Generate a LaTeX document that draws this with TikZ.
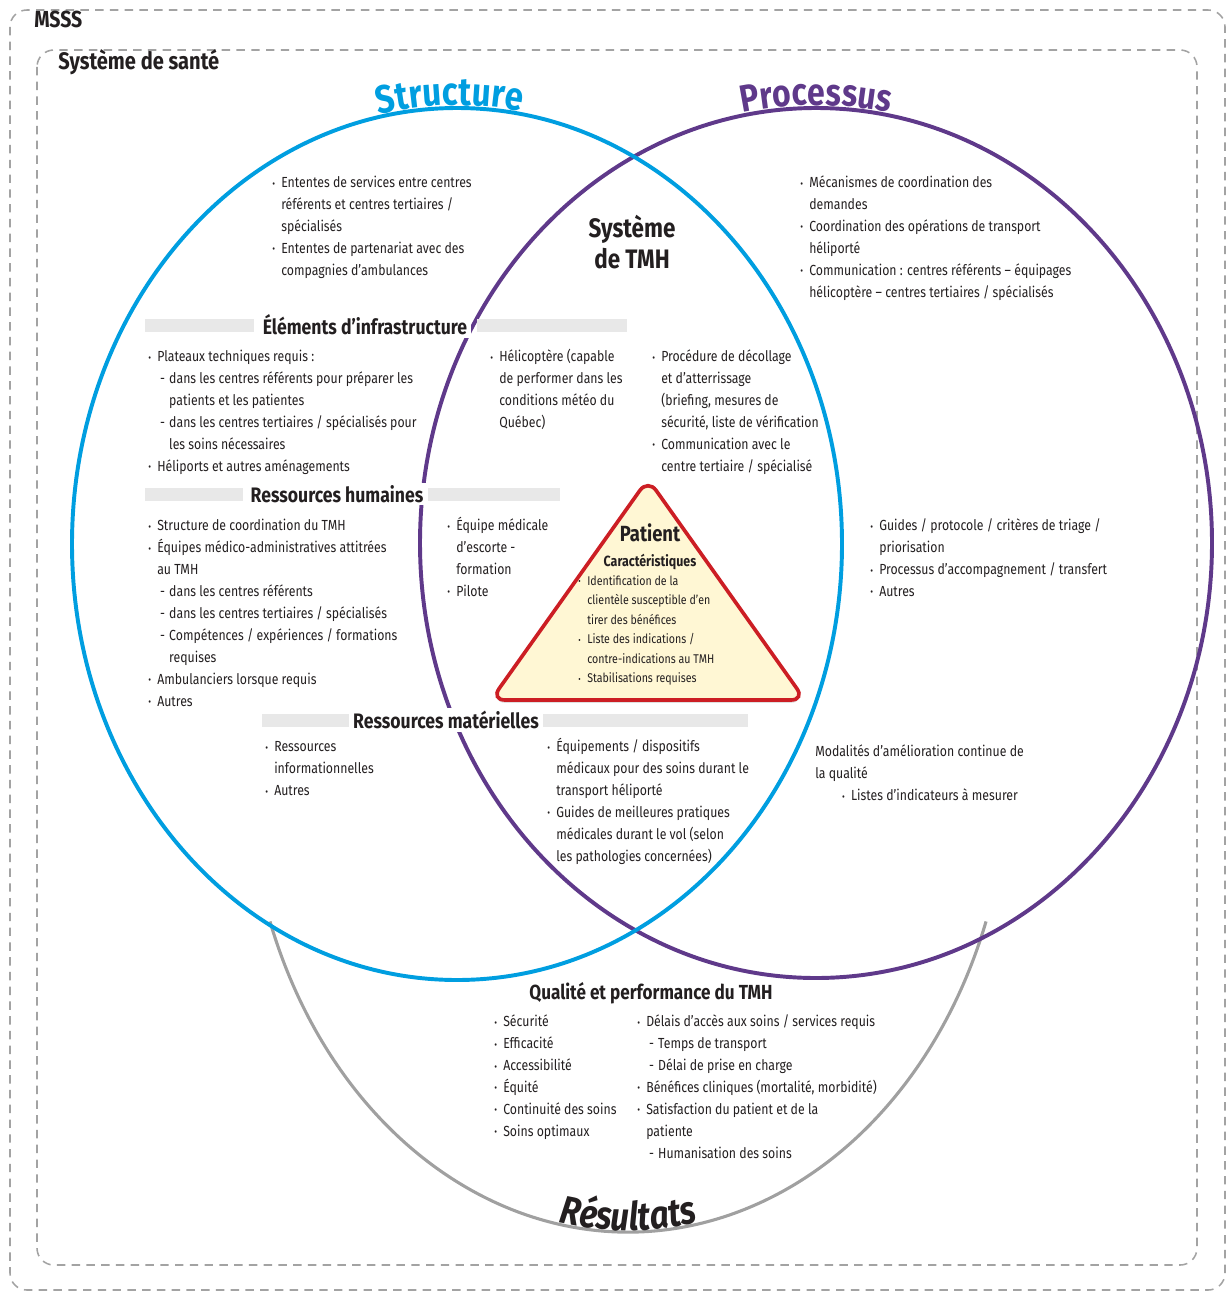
\documentclass[tikz,border=0pt]{standalone}
\usepackage{fontspec}
\setmainfont{Fira Sans}[FakeStretch=0.84]
\usetikzlibrary{positioning,calc,decorations.text,shadows}

\definecolor{strucblue}{RGB}{0,158,224}
\definecolor{procpurple}{RGB}{95,57,138}
\definecolor{resgray}{RGB}{160,160,160}
\definecolor{dashgray}{RGB}{163,163,163}
\definecolor{bargray}{RGB}{232,232,232}
\definecolor{patred}{RGB}{204,30,36}
\definecolor{patfill}{RGB}{255,247,212}
\definecolor{ink}{RGB}{35,31,32}

\newcommand{\haut}{\rule{0pt}{11.1pt}}
\newcommand{\petithaut}{\rule{0pt}{9.2pt}}
\newcommand{\bul}{\makebox[6.4pt][l]{\raisebox{0.1ex}{\scalebox{0.7}{\textbullet}}}}
\newcommand{\hng}{\hspace*{6.4pt}}
\newcommand{\tiret}{\hspace*{8.5pt}\makebox[6.4pt][l]{-}}
\newcommand{\subhng}{\hspace*{14.9pt}}

\begin{document}
\begin{tikzpicture}[
  x=0.025cm, y=-0.025cm,
  txt/.style={anchor=north west, align=left, inner sep=0pt, text=ink,
              font=\fontsize{10.4}{15.6}\selectfont},
  small/.style={anchor=north west, align=left, inner sep=0pt, text=ink,
                font=\fontsize{9}{13.9}\selectfont},
  head/.style={fill=white, inner xsep=3pt, inner ysep=2pt, text=ink,
               font=\fontsize{14.9}{14.9}\selectfont\bfseries},
  bar/.style={fill=bargray},
  cadre/.style={draw=dashgray, line width=1.1pt, dash pattern=on 6pt off 4.5pt,
                rounded corners=12pt},
  ring/.style={line width=2.8pt},
  resline/.style={draw=resgray, line width=2.2pt},
  patient/.style={draw=patred, fill=patfill, line width=2.6pt, rounded corners=10pt,
                  drop shadow={opacity=0.25, shadow xshift=0pt, shadow yshift=-2pt}}
]
  \useasboundingbox (0,0) rectangle (1230,1295);

  \draw[cadre] (10,10) rectangle (1225,1290);
  \draw[cadre] (37,50) rectangle (1197,1265);
  \node[anchor=base west, inner sep=0pt, text=ink, font=\fontsize{16.5}{16.5}\selectfont\bfseries]
    (msss) at (34,27) {MSSS};
  \node[anchor=base west, inner sep=0pt, text=ink, font=\fontsize{17}{17}\selectfont\bfseries]
    (sante) at (58,69) {Système de santé};

  \coordinate (sc) at (457,544);
  \coordinate (pc) at (816,543);
  \coordinate (rc) at (628,760);

  \draw[resline] (rc) ++(160:381 and 472) arc[start angle=160, end angle=20, x radius=381, y radius=472];
  \draw[ring, draw=procpurple] (pc) ellipse [x radius=396, y radius=435];
  \draw[ring, draw=strucblue] (sc) ellipse [x radius=385, y radius=436];

  \path[decorate, decoration={text along path, text align=center, raise=2pt,
        text={|\fontsize{28}{28}\selectfont\bfseries\color{strucblue}|Structure}}]
    (sc) ++(234:385 and 436) arc[start angle=234, end angle=304, x radius=385, y radius=436];
  \path[decorate, decoration={text along path, text align=center, raise=2pt,
        text={|\fontsize{27}{27}\selectfont\bfseries\color{procpurple}|Processus}}]
    (pc) ++(235:396 and 435) arc[start angle=235, end angle=305, x radius=396, y radius=435];
  \path[decorate, decoration={text along path, text align=center, raise=1pt,
        text={|\fontsize{28}{28}\selectfont\bfseries\itshape\color{ink}|R{é}sultats}}]
    (rc) ++(115:381 and 472) arc[start angle=115, end angle=65, x radius=381, y radius=472];

  \fill[bar] (145,319) rectangle (254,332);
  \fill[bar] (477,319) rectangle (627,332);
  \fill[bar] (145,488) rectangle (243,501);
  \fill[bar] (428,488) rectangle (560,501);
  \fill[bar] (262,714) rectangle (350,727);
  \fill[bar] (543,714) rectangle (748,727);
  \node[head] (infra) at (365,325) {Éléments d’infrastructure};
  \node[head] (rh) at (337,494) {Ressources humaines};
  \node[head] (rm) at (446,720) {Ressources matérielles};

  \node[align=center, inner sep=0pt, text=ink, font=\fontsize{19}{22}\selectfont\bfseries]
    (tmh) at (632,242) {Système\\de TMH};

  \node[txt] (ententes) at (272,172) {\haut\bul Ententes de services entre centres\\
    \hng référents et centres tertiaires /\\
    \hng spécialisés\\
    \bul Ententes de partenariat avec des\\
    \hng compagnies d’ambulances};

  \node[txt] (mecanismes) at (800,172) {\haut\bul Mécanismes de coordination des\\
    \hng demandes\\
    \bul Coordination des opérations de transport\\
    \hng héliporté\\
    \bul Communication : centres référents – équipages\\
    \hng hélicoptère – centres tertiaires / spécialisés};

  \node[txt] (plateaux) at (148,346) {\haut\bul Plateaux techniques requis :\\
    \tiret dans les centres référents pour préparer les\\
    \subhng patients et les patientes\\
    \tiret dans les centres tertiaires / spécialisés pour\\
    \subhng les soins nécessaires\\
    \bul Héliports et autres aménagements};

  \node[txt] (helico) at (490,346) {\haut\bul Hélicoptère (capable\\
    \hng de performer dans les\\
    \hng conditions météo du\\
    \hng Québec)};

  \node[txt] (procedure) at (652,346) {\haut\bul Procédure de décollage\\
    \hng et d’atterrissage\\
    \hng (briefing, mesures de\\
    \hng sécurité, liste de vérification\\
    \bul Communication avec le\\
    \hng centre tertiaire / spécialisé};

  \node[txt] (coord) at (148,515) {\haut\bul Structure de coordination du TMH\\
    \bul Équipes médico-administratives attitrées\\
    \hng au TMH\\
    \tiret dans les centres référents\\
    \tiret dans les centres tertiaires / spécialisés\\
    \tiret Compétences / expériences / formations\\
    \subhng requises\\
    \bul Ambulanciers lorsque requis\\
    \bul Autres};

  \node[txt] (escorte) at (447,515) {\haut\bul Équipe médicale\\
    \hng d’escorte -\\
    \hng formation\\
    \bul Pilote};

  \node[txt] (guides) at (870,515) {\haut\bul Guides / protocole / critères de triage /\\
    \hng priorisation\\
    \bul Processus d’accompagnement / transfert\\
    \bul Autres};

  \draw[patient] (648,479) -- (805,700) -- (491,700) -- cycle;
  \node[inner sep=0pt, text=ink, font=\fontsize{15.6}{15.6}\selectfont\bfseries]
    (patient) at (650,533) {Patient};
  \node[inner sep=0pt, text=ink, font=\fontsize{10.5}{10.5}\selectfont\bfseries, below=8.5pt of patient]
    (caract) {Caractéristiques};
  \node[small] (identif) at (578,572) {\petithaut\bul Identification de la\\
    \hng clientèle susceptible d’en\\
    \hng tirer des bénéfices\\
    \bul Liste des indications /\\
    \hng contre-indications au TMH\\
    \bul Stabilisations requises};

  \node[txt] (ressinfo) at (265,736) {\haut\bul Ressources\\
    \hng informationnelles\\
    \bul Autres};

  \node[txt] (equipements) at (547,736) {\haut\bul Équipements / dispositifs\\
    \hng médicaux pour des soins durant le\\
    \hng transport héliporté\\
    \bul Guides de meilleures pratiques\\
    \hng médicales durant le vol (selon\\
    \hng les pathologies concernées)};

  \node[txt] (modalites) at (815,741) {\haut Modalités d’amélioration continue de\\
    la qualité\\
    \hspace*{19pt}\bul Listes d’indicateurs à mesurer};

  \node[inner sep=0pt, text=ink, font=\fontsize{14.5}{14.5}\selectfont\bfseries]
    (qualite) at (651,993) {Qualité et performance du TMH};
  \node[txt] (criteres) at (494,1011) {\haut\bul Sécurité\\
    \bul Efficacité\\
    \bul Accessibilité\\
    \bul Équité\\
    \bul Continuité des soins\\
    \bul Soins optimaux};
  \node[txt] (delais) at (637,1011) {\haut\bul Délais d’accès aux soins / services requis\\
    \tiret Temps de transport\\
    \tiret Délai de prise en charge\\
    \bul Bénéfices cliniques (mortalité, morbidité)\\
    \bul Satisfaction du patient et de la\\
    \hng patiente\\
    \tiret Humanisation des soins};
\end{tikzpicture}
\end{document}
